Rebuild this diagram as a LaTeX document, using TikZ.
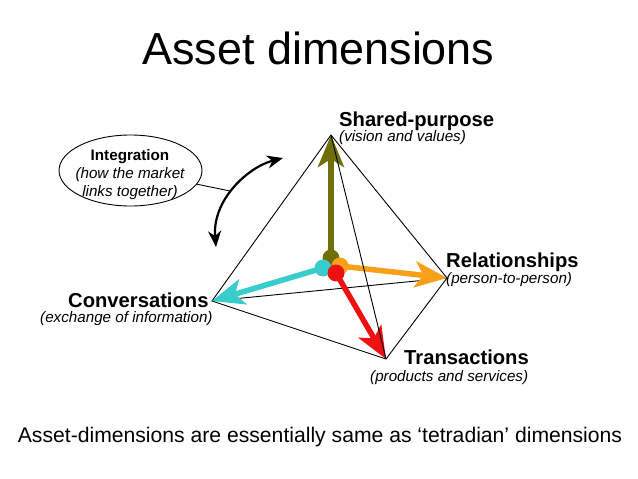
\documentclass[tikz,border=0pt]{standalone}
\usepackage{fontspec}
\setmainfont{Liberation Sans}
\usetikzlibrary{arrows.meta,shapes.geometric}
\definecolor{olivec}{HTML}{6E6E0A}
\definecolor{orangec}{HTML}{F9A01B}
\definecolor{cyanc}{HTML}{38CCCC}
\definecolor{redc}{HTML}{EE1111}
\tikzset{
  edge/.style={draw=black,line width=0.9pt},
  dim/.style={line width=5.5pt,-{Stealth[length=32pt,width=26pt,inset=8pt]}},
  hub/.style={circle,inner sep=0pt,minimum size=17pt},
  head/.style={inner sep=0pt,font=\fontsize{20.2}{24}\selectfont\bfseries,anchor=base west},
  sub/.style={inner sep=0pt,font=\fontsize{15.2}{18}\selectfont\itshape,anchor=base west},
}
\begin{document}
\begin{tikzpicture}[x=1pt,y=-1pt]
\useasboundingbox[fill=white] (0,0) rectangle (638,479);
\coordinate (S) at (331,135);
\coordinate (R) at (447,278);
\coordinate (T) at (386,359);
\coordinate (C) at (212,301);
\coordinate (A) at (283,158);
\coordinate (B) at (216,247);
\coordinate (J) at (230,191);
\node[inner sep=0pt,anchor=base,font=\fontsize{44.9}{50}\selectfont] (title) at (318.5,64) {Asset dimensions};
\draw[edge] (S) -- (C) -- (T) -- (R) -- cycle;
\draw[edge] (C) -- (R);
\node[hub,fill=olivec] (ho) at (331,258) {};
\node[hub,fill=orangec] (hr) at (340,266) {};
\node[hub,fill=cyanc] (hc) at (323,268) {};
\draw[dim,olivec] (ho.center) -- (S);
\draw[dim,orangec] (hr.center) -- (R);
\draw[dim,cyanc] (hc.center) -- (C);
\node[hub,fill=redc] (ht) at (336,273) {};
\draw[dim,redc] (ht.center) -- (T);
\draw[edge] (S) -- (T);
\node[ellipse,draw=black,line width=0.9pt,fill=white,minimum width=143pt,minimum height=71pt,inner sep=0pt] (int) at (130.5,170.5) {};
\node[inner sep=0pt,anchor=base,font=\fontsize{15.2}{18}\selectfont\bfseries] (i1) at (130,160) {Integration};
\node[inner sep=0pt,anchor=base,font=\fontsize{15.2}{18}\selectfont\itshape] (i2) at (130,178) {(how the market};
\node[inner sep=0pt,anchor=base,font=\fontsize{15.2}{18}\selectfont\itshape] (i3) at (130,196) {links together)};
\draw[edge] (int) -- (J);
\draw[line width=2.2pt,{Stealth[length=16pt,width=13pt,inset=5pt]}-{Stealth[length=16pt,width=13pt,inset=5pt]}] (A) .. controls (248,167) and (212,200) .. (B);
\node[head] (ls) at (339,126) {Shared-purpose};
\node[sub] (ss) at (339,141) {(vision and values)};
\node[head] (lr) at (446,267) {Relationships};
\node[sub] (sr) at (446,283) {(person-to-person)};
\node[head] (lt) at (404,364) {Transactions};
\node[sub] (st) at (370,381) {(products and services)};
\node[head] (lc) at (68,307) {Conversations};
\node[sub] (sc) at (40,322) {(exchange of information)};
\node[inner sep=0pt,anchor=base,font=\fontsize{21.15}{24}\selectfont] (foot) at (320,442) {Asset-dimensions are essentially same as ‘tetradian’ dimensions};
\end{tikzpicture}
\end{document}
